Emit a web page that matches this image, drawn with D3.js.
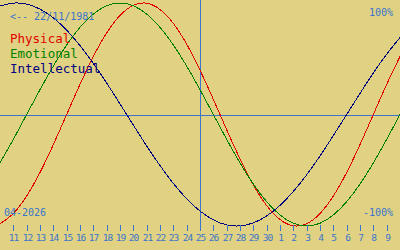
<!DOCTYPE html>
<html>
<head>
<meta charset="utf-8">
<script src="https://cdn.jsdelivr.net/npm/d3@7"></script>
<style>
body{margin:0;padding:0;background:#e0d282;}
svg{display:block;}
text{font-family:"DejaVu Sans Mono",monospace;}
</style>
</head>
<body>
<svg width="400" height="250"></svg>
<script>
// day labels, 11 april .. 9 may 2026
var days = ["11","12","13","14","15","16","17","18","19","20","21","22","23","24","25","26","27","28","29","30","1","2","3","4","5","6","7","8","9"];
// values per day, starting one day before the first label (index -1) up to index 29
var physical = [-0.979,-0.888,-0.731,-0.520,-0.270,0,0.270,0.520,0.731,0.888,0.979,0.998,0.942,0.817,0.631,0.398,0.136,-0.136,-0.398,-0.631,-0.817,-0.942,-0.998,-0.979,-0.888,-0.731,-0.520,-0.270,0,0.270,0.520];
var emotional = [-0.434,-0.223,0,0.223,0.434,0.624,0.782,0.901,0.975,1,0.975,0.901,0.782,0.624,0.434,0.223,0,-0.223,-0.434,-0.624,-0.782,-0.901,-0.975,-1,-0.975,-0.901,-0.782,-0.624,-0.434,-0.223,0];
var intellectual = [0.972,0.999,0.990,0.945,0.866,0.756,0.618,0.458,0.282,0.095,-0.095,-0.282,-0.458,-0.618,-0.756,-0.866,-0.945,-0.990,-0.999,-0.972,-0.910,-0.815,-0.690,-0.541,-0.372,-0.189,0,0.189,0.372,0.541,0.690];
var todayIndex = 14;
var birthLabel = "<-- 22/11/1981";
var monthLabel = "04-2026";

function draw()
{
  var svg = d3.select("svg");
  var width = 400, height = 250;
  var blue = "#3a74cc";

  var x = d3.scaleLinear().domain([-1, 29]).range([0, 400]);
  var y = d3.scaleLinear().domain([-1, 1]).range([226, 3]);

  // middle line and today line
  svg.append("line")
    .attr("x1", 0).attr("x2", width)
    .attr("y1", Math.round(y(0)) + 0.5).attr("y2", Math.round(y(0)) + 0.5)
    .style("stroke", blue);
  svg.append("line")
    .attr("x1", Math.round(x(todayIndex)) + 0.5).attr("x2", Math.round(x(todayIndex)) + 0.5)
    .attr("y1", 0).attr("y2", 231)
    .style("stroke", blue);

  var series = [
    {name:"Physical", values:physical, color:"#e00000"},
    {name:"Emotional", values:emotional, color:"#008000"},
    {name:"Intellectual", values:intellectual, color:"#000080"}
  ];

  var line = d3.line()
    .x((d, i) => x(i - 1))
    .y(d => y(d))
    .curve(d3.curveNatural);

  svg.selectAll("path.bio")
    .data(series)
    .enter()
    .append("path")
    .attr("class", "bio")
    .attr("d", d => line(d.values))
    .style("fill", "none")
    .style("stroke", d => d.color)
    .style("stroke-width", 1)
    .style("shape-rendering", "crispEdges");

  // ticks along the bottom
  var ticks = svg.selectAll("g.tick")
    .data(days)
    .enter()
    .append("g")
    .attr("class", "tick")
    .attr("transform", (d, i) => "translate(" + (Math.round(x(i)) + 0.5) + ",0)");
  ticks.append("line")
    .attr("y1", 225).attr("y2", 231)
    .style("stroke", blue);
  ticks.append("text")
    .attr("y", 241)
    .attr("text-anchor", "middle")
    .style("font-size", "9.5px")
    .style("letter-spacing", "-1px")
    .style("fill", blue)
    .text(d => d);

  svg.append("text").attr("x", 10).attr("y", 20)
    .style("font-size", "10px").style("fill", blue).text(birthLabel);
  svg.append("text").attr("x", 393).attr("y", 16).attr("text-anchor", "end")
    .style("font-size", "10px").style("fill", blue).text("100%");
  svg.append("text").attr("x", 393).attr("y", 216).attr("text-anchor", "end")
    .style("font-size", "10px").style("fill", blue).text("-100%");
  svg.append("text").attr("x", 4).attr("y", 216)
    .style("font-size", "10px").style("fill", blue).text(monthLabel);

  svg.selectAll("text.legend")
    .data(series)
    .enter()
    .append("text")
    .attr("class", "legend")
    .attr("x", 10)
    .attr("y", (d, i) => 43 + i * 15)
    .style("font-size", "12.5px")
    .style("fill", d => d.color)
    .text(d => d.name);
}

draw();
</script>
</body>
</html>
